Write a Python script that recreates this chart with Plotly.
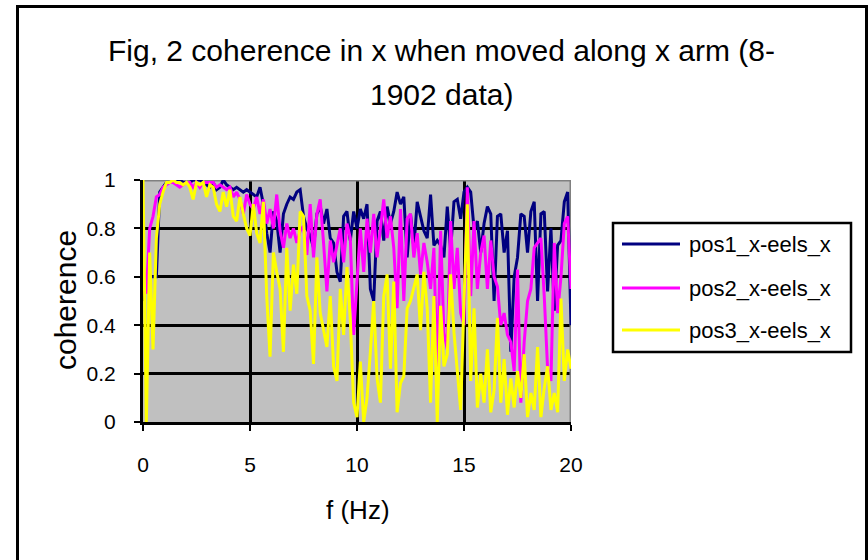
import plotly.graph_objects as go

# Coherence spectra, 0-20 Hz, bin spacing DF
DF = 0.15625

pos1_x = [
    0.50, 0.58, 0.60, 0.60, 0.60, 0.95, 0.97, 0.99, 0.99, 0.99, 1.00, 1.00, 0.99, 0.99, 0.99, 1.00,
    1.00, 1.00, 0.99, 0.98, 0.97, 0.99, 0.96, 0.97, 1.00, 0.98, 0.97, 0.96, 0.97, 0.96, 0.95, 0.96, 0.95,
    0.94, 0.93, 0.97, 0.90, 0.78, 0.70, 0.87, 0.83, 0.70, 0.86, 0.90, 0.93, 0.92, 0.95, 0.96, 0.85,
    0.80, 0.77, 0.72, 0.86, 0.89, 0.82, 0.88, 0.76, 0.74, 0.62, 0.58, 0.85, 0.87, 0.75, 0.87, 0.80,
    0.88, 0.84, 0.90, 0.55, 0.50, 0.83, 0.87, 0.75, 0.89, 0.82, 0.87, 0.95, 0.90, 0.93, 0.68, 0.86,
    0.72, 0.91, 0.85, 0.79, 0.76, 0.94, 0.73, 0.75, 0.73, 0.68, 0.89, 0.71, 0.91, 0.92, 0.84, 0.95,
    0.97, 0.95, 0.80, 0.83, 0.70, 0.82, 0.89, 0.86, 0.50, 0.85, 0.86, 0.70, 0.79, 0.29, 0.60, 0.68,
    0.86, 0.85, 0.70, 0.87, 0.91, 0.50, 0.86, 0.87, 0.54, 0.80, 0.46, 0.73, 0.75, 0.91, 0.95, 0.40,
]

pos2_x = [
    0.66, 0.53, 0.80, 0.85, 0.93, 0.94, 0.97, 0.98, 0.99, 0.99, 0.98, 0.97, 0.98, 0.99, 0.99, 0.97,
    0.99, 0.97, 0.99, 0.99, 0.99, 0.99, 0.97, 0.98, 0.97, 0.96, 0.97, 0.93, 0.95, 0.92, 0.86, 0.94, 0.90,
    0.88, 0.93, 0.86, 0.92, 0.82, 0.88, 0.80, 0.94, 0.79, 0.72, 0.82, 0.76, 0.80, 0.74, 0.79, 0.81,
    0.69, 0.90, 0.68, 0.86, 0.92, 0.74, 0.54, 0.75, 0.66, 0.73, 0.80, 0.66, 0.82, 0.76, 0.36, 0.58,
    0.80, 0.62, 0.84, 0.70, 0.86, 0.68, 0.81, 0.92, 0.76, 0.85, 0.72, 0.47, 0.88, 0.50, 0.84, 0.86,
    0.68, 0.78, 0.61, 0.74, 0.66, 0.55, 0.72, 0.17, 0.79, 0.37, 0.30, 0.83, 0.55, 0.72, 0.45, 0.40,
    0.97, 0.52, 0.83, 0.55, 0.70, 0.77, 0.55, 0.75, 0.60, 0.56, 0.40, 0.45, 0.36, 0.33, 0.21, 0.63,
    0.08, 0.33, 0.50, 0.55, 0.72, 0.74, 0.76, 0.52, 0.22, 0.17, 0.74, 0.45, 0.60, 0.82, 0.85, 0.55,
]

pos3_x = [
    1.00, 0.00, 0.70, 0.30, 0.76, 0.90, 0.95, 0.99, 0.99, 1.00, 0.99, 0.99, 0.98, 0.99, 0.97, 0.92,
    0.99, 0.98, 0.99, 0.93, 0.98, 0.97, 0.90, 0.87, 0.95, 0.89, 0.96, 0.85, 0.83, 0.93, 0.86, 0.80, 0.77,
    0.90, 0.78, 0.74, 0.91, 0.52, 0.27, 0.70, 0.62, 0.55, 0.29, 0.72, 0.46, 0.65, 0.53, 0.87, 0.85,
    0.52, 0.46, 0.24, 0.68, 0.45, 0.38, 0.31, 0.52, 0.23, 0.17, 0.55, 0.36, 0.64, 0.42, 0.08, 0.02,
    0.25, 0.00, 0.10, 0.29, 0.50, 0.18, 0.08, 0.52, 0.61, 0.22, 0.58, 0.04, 0.16, 0.19, 0.47, 0.50,
    0.55, 0.61, 0.38, 0.62, 0.47, 0.08, 0.52, 0.00, 0.48, 0.23, 0.28, 0.61, 0.37, 0.20, 0.05, 0.50,
    0.90, 0.17, 0.47, 0.06, 0.20, 0.08, 0.30, 0.04, 0.13, 0.43, 0.08, 0.26, 0.03, 0.18, 0.06, 0.21,
    0.10, 0.28, 0.02, 0.12, 0.05, 0.31, 0.02, 0.14, 0.23, 0.05, 0.12, 0.04, 0.51, 0.17, 0.30, 0.22,
]

freq = [i * DF for i in range(len(pos1_x))]

series_names = ["pos1_x-eels_x", "pos2_x-eels_x", "pos3_x-eels_x"]
series_colors = ["#000080", "#FF00FF", "#FFFF00"]
series_values = [pos1_x, pos2_x, pos3_x]

x_ticks = [0, 5, 10, 15, 20]
y_ticks = [0, 0.2, 0.4, 0.6, 0.8, 1]
y_tick_text = ["0", "0.2", "0.4", "0.6", "0.8", "1"]

title_lines = ["Fig, 2 coherence in x when moved along x arm (8-", "1902 data)"]

FONT = "Liberation Sans, Arial, sans-serif"
W, H = 868, 560
L, R, T, B = 143, 571, 180, 422  # plot area in pixels


def px(xp):
    return (xp - L) / (R - L)


def py(yp):
    return (B - yp) / (B - T)


fig = go.Figure()
for name, color, vals in zip(series_names, series_colors, series_values):
    fig.add_trace(go.Scatter(x=freq, y=vals, mode="lines", name=name,
                             line=dict(color=color, width=3), showlegend=False))

shapes = []
# plot frame: grey top/right edges
shapes.append(dict(type="line", xref="x", yref="y", x0=0, x1=20, y0=1, y1=1,
                   line=dict(color="#808080", width=3), layer="between"))
shapes.append(dict(type="line", xref="x", yref="y", x0=20, x1=20, y0=0, y1=1,
                   line=dict(color="#808080", width=3), layer="between"))
# outer chart border
shapes.append(dict(type="rect", xref="paper", yref="paper",
                   x0=px(17.5), x1=px(866.5), y0=py(575), y1=py(6.5),
                   line=dict(color="black", width=3), layer="above"))
# legend box and samples
shapes.append(dict(type="rect", xref="paper", yref="paper",
                   x0=px(613), x1=px(851), y0=py(352), y1=py(223),
                   line=dict(color="black", width=2.5), fillcolor="white", layer="above"))

annotations = []
legend_rows = [244, 288, 330]
for name, color, yr in zip(series_names, series_colors, legend_rows):
    shapes.append(dict(type="line", xref="paper", yref="paper",
                       x0=px(622), x1=px(680), y0=py(yr), y1=py(yr),
                       line=dict(color=color, width=3), layer="above"))
    annotations.append(dict(text=name, xref="paper", yref="paper", x=px(687), y=py(yr),
                            xanchor="left", yanchor="middle", showarrow=False,
                            font=dict(family=FONT, size=22, color="black")))

for line, yc in zip(title_lines, [50, 95]):
    annotations.append(dict(text=line, xref="paper", yref="paper", x=px(441), y=py(yc),
                            xanchor="center", yanchor="middle", showarrow=False,
                            font=dict(family=FONT, size=30, color="black")))

annotations.append(dict(text="f (Hz)", xref="paper", yref="paper", x=px(358), y=py(510),
                        xanchor="center", yanchor="middle", showarrow=False,
                        font=dict(family=FONT, size=26, color="black")))
annotations.append(dict(text="coherence", xref="paper", yref="paper", x=px(65), y=py(300),
                        xanchor="center", yanchor="middle", showarrow=False, textangle=-90,
                        font=dict(family=FONT, size=30, color="black")))

fig.update_layout(
    width=W, height=H,
    margin=dict(l=L, r=W - R, t=T, b=H - B),
    paper_bgcolor="white", plot_bgcolor="#C0C0C0",
    shapes=shapes, annotations=annotations,
    font=dict(family=FONT, size=20, color="black"),
)
fig.update_xaxes(range=[0, 20], tickvals=x_ticks, showgrid=True, gridcolor="black", gridwidth=3,
                 zeroline=False, showline=True, linecolor="black", linewidth=3,
                 ticks="outside", ticklen=6, tickwidth=2, tickcolor="black",
                 ticklabelstandoff=16, tickfont=dict(size=21))
fig.update_yaxes(range=[0, 1], tickvals=y_ticks, ticktext=y_tick_text, showgrid=True,
                 gridcolor="black", gridwidth=3, zeroline=False, showline=True,
                 linecolor="black", linewidth=3, ticks="outside", ticklen=6, tickwidth=2,
                 tickcolor="black", ticklabelstandoff=14, tickfont=dict(size=21))

fig.write_html("out.html")
